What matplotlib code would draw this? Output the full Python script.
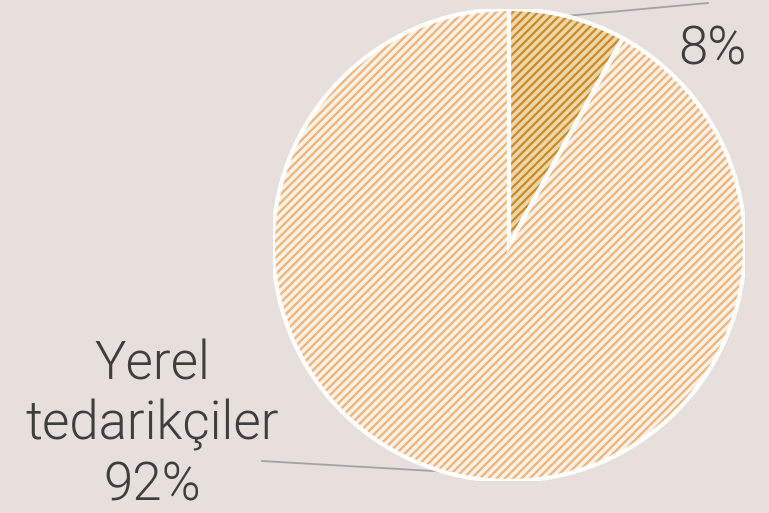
import matplotlib
matplotlib.use("Agg")
import matplotlib.pyplot as plt
from matplotlib.patches import Wedge

# data
shares = [8, 92]
labels = ["8%", "Yerel\ntedarikçiler\n92%"]
base_colors = ["#efd6a6", "#fcf1e6"]
stripe_colors = ["#c98a2a", "#efb47a"]

BG = "#e7dfdb"
TEXT = "#3e3e3e"
LEADER = "#a3a3a3"
FONT = ["Roboto", "DejaVu Sans"]

plt.rcParams["hatch.linewidth"] = 1.6

fig = plt.figure(figsize=(7.69, 5.13), dpi=100, facecolor=BG)
# pie centre ~ (509, 245) px, radius ~236 px
r_px = 236
ax = fig.add_axes([(509 - r_px) / 769, (268 - r_px) / 513, 2 * r_px / 769, 2 * r_px / 513])
ax.set_facecolor(BG)

wedges, _ = ax.pie(shares, startangle=90, counterclock=False, radius=1,
                   colors=base_colors, wedgeprops=dict(linewidth=0))
for w, sc in zip(wedges, stripe_colors):
    w.set_hatch("////")
    w.set_edgecolor(sc)
    w.set_linewidth(0)
    outline = Wedge(w.center, w.r, w.theta1, w.theta2, fill=False,
                    edgecolor="white", linewidth=3, zorder=3)
    ax.add_patch(outline)

ax.set_xlim(-1, 1)
ax.set_ylim(-1, 1)
ax.axis("off")


def to_data(px, py):
    return (px - 509) / r_px, (245 - py) / r_px


# leader lines
for (p0, p1) in [((566, 16), (708, 3)), ((262, 461), (450, 472))]:
    x0, y0 = to_data(*p0)
    x1, y1 = to_data(*p1)
    ax.plot([x0, x1], [y0, y1], color=LEADER, linewidth=1.3, clip_on=False, zorder=1)

tx, ty = to_data(712, 50)
ax.text(tx, ty, labels[0], ha="center", va="center", fontsize=38, color=TEXT,
        family=FONT, fontweight=300, clip_on=False)
tx, ty = to_data(152, 425)
ax.text(tx, ty, labels[1], ha="center", va="center", fontsize=38, color=TEXT,
        family=FONT, fontweight=300, linespacing=1.22,
        multialignment="center", clip_on=False)

fig.savefig("out.png", dpi=100, facecolor=BG)
